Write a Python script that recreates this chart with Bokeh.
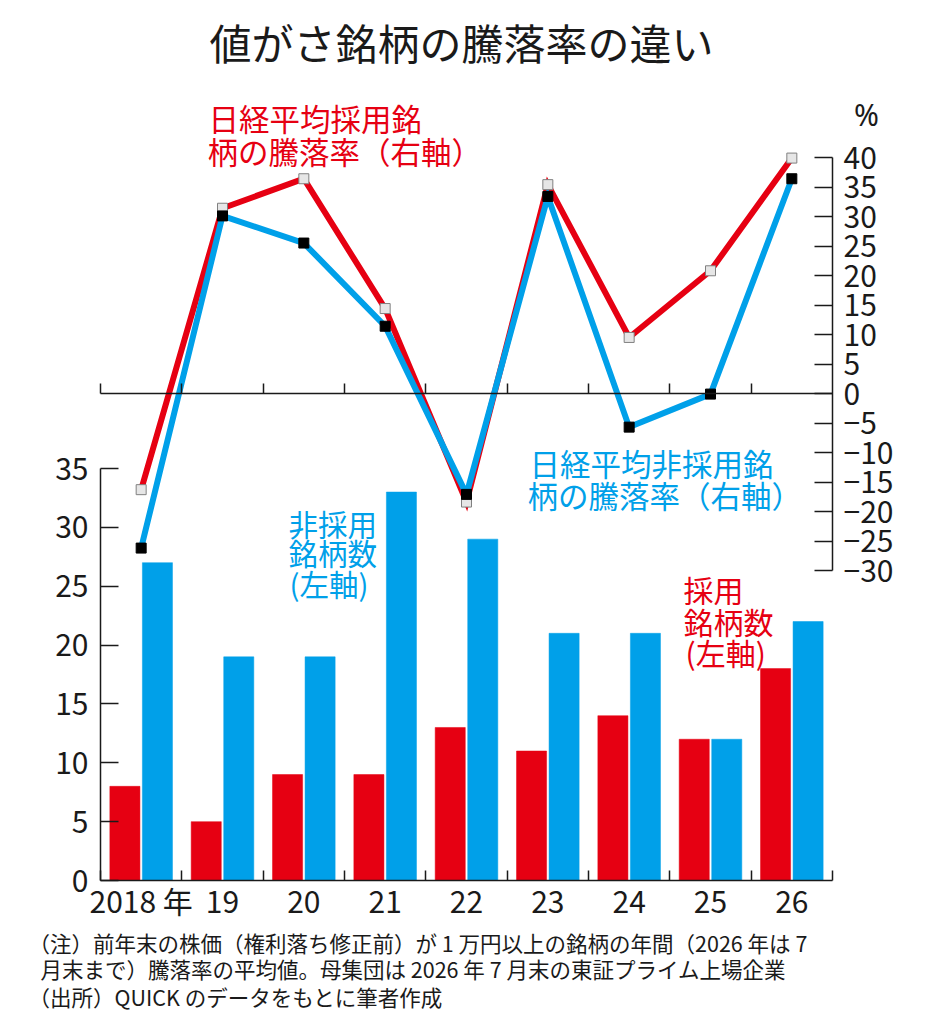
from bokeh.plotting import figure
from bokeh.models import Range1d, LinearAxis, FixedTicker, Label, ColumnDataSource
from bokeh.transform import dodge
from bokeh.embed import file_html
from bokeh.resources import INLINE

# ---------------- data ----------------
years = ["2018 年", "19", "20", "21", "22", "23", "24", "25", "26"]
adopted_count = [8, 5, 9, 9, 13, 11, 14, 12, 18]          # 採用銘柄数（左軸）
non_adopted_count = [27, 19, 19, 33, 29, 21, 21, 12, 22]  # 非採用銘柄数（左軸）
adopted_return = [-16.3, 31.4, 36.4, 14.4, -18.4, 35.4, 9.5, 20.8, 39.9]      # 日経平均採用銘柄の騰落率（右軸）
non_adopted_return = [-26.2, 30.1, 25.5, 11.4, -17.1, 33.4, -5.7, -0.1, 36.4]  # 日経平均非採用銘柄の騰落率（右軸）
left_ticks = [0, 5, 10, 15, 20, 25, 30, 35]
right_ticks = [-30, -25, -20, -15, -10, -5, 0, 5, 10, 15, 20, 25, 30, 35, 40]

title_text = "値がさ銘柄の騰落率の違い"
footnote_lines = [
    "（注）前年末の株価（権利落ち修正前）が 1 万円以上の銘柄の年間（2026 年は 7",
    "月末まで）騰落率の平均値。母集団は 2026 年 7 月末の東証プライム上場企業",
    "（出所）QUICK のデータをもとに筆者作成",
]

RED = "#e60012"
BLUE = "#00a0e9"
INK = "#1a1a1a"
FONT = "Noto Sans CJK JP"

# ---------------- layout (page pixels) ----------------
W, H = 916, 1016
FL, FR = 100, 832                 # plot area left / right (axis lines)
L0_PX, L35_PX = 880, 468          # left axis 0 and 35
R40_PX, RM30_PX = 157, 570        # right axis 40 and -30

n = len(years)
KX = (FR - FL) / n
KL = (L0_PX - L35_PX) / 35.0
KR = (RM30_PX - R40_PX) / 70.0
R0_PX = R40_PX + 40 * KR


def xd(px):
    return -0.5 + (px - FL) / KX


def yd(py):
    return (L0_PX - py) / KL


# the frame covers the whole canvas; the axes are pinned with fixed_location
p = figure(width=W, height=H, output_backend="svg", toolbar_location=None,
           x_range=Range1d(xd(0), xd(W)), y_range=Range1d(yd(H), yd(0)),
           x_axis_type=None, y_axis_type=None,
           min_border_left=0, min_border_right=0, min_border_top=0, min_border_bottom=0)
p.extra_y_ranges = {"right": Range1d((R0_PX - H) / KR, R0_PX / KR)}
p.outline_line_color = None
p.background_fill_color = "white"
p.border_fill_color = "white"

centers = list(range(n))
bounds = [i - 0.5 for i in range(n + 1)]
src = ColumnDataSource(dict(x=centers, adopted=adopted_count, non_adopted=non_adopted_count,
                            adopted_ret=adopted_return, non_adopted_ret=non_adopted_return))

# bars
p.vbar(x=dodge("x", -0.2, range=p.x_range), top="adopted", width=0.37, bottom=0,
       source=src, fill_color=RED, line_color=RED, line_width=0.5)
p.vbar(x=dodge("x", 0.2, range=p.x_range), top="non_adopted", width=0.37, bottom=0,
       source=src, fill_color=BLUE, line_color=BLUE, line_width=0.5)

# lines
p.line(x="x", y="adopted_ret", source=src, y_range_name="right",
       line_color=RED, line_width=6, line_join="miter")
p.line(x="x", y="non_adopted_ret", source=src, y_range_name="right",
       line_color=BLUE, line_width=6, line_join="miter")
p.scatter(x="x", y="adopted_ret", source=src, y_range_name="right", marker="square",
          size=10, fill_color="#e6e6e6", line_color="#808080", line_width=1)
p.scatter(x="x", y="non_adopted_ret", source=src, y_range_name="right", marker="square",
          size=10, fill_color="black", line_color="black", line_width=1)


def style(ax):
    ax.axis_line_color = INK
    ax.axis_line_width = 1.5
    ax.major_tick_line_color = INK
    ax.major_tick_line_width = 1.5
    ax.minor_tick_line_color = INK
    ax.minor_tick_line_width = 1.5
    ax.major_label_text_font = FONT
    ax.major_label_text_font_size = "30px"
    ax.major_label_text_color = INK


# bottom category axis (left-axis zero)
xa = LinearAxis(ticker=FixedTicker(ticks=centers, minor_ticks=bounds), fixed_location=0)
style(xa)
xa.bounds = (-0.5, n - 0.5)
xa.major_label_overrides = {c: lab for c, lab in zip(centers, years)}
xa.major_tick_in = 0
xa.major_tick_out = 0
xa.minor_tick_in = 10
xa.minor_tick_out = 0
xa.major_label_standoff = -3
p.add_layout(xa, "below")

# zero line of the right axis with upward ticks
za = LinearAxis(ticker=FixedTicker(ticks=[], minor_ticks=bounds[:-1]),
                fixed_location=(L0_PX - R0_PX) / KL)
style(za)
za.bounds = (-0.5, n - 0.5)
za.major_tick_in = 0
za.major_tick_out = 0
za.minor_tick_in = 10
za.minor_tick_out = 0
za.major_label_text_font_size = "0px"
p.add_layout(za, "below")

# left axis (counts)
ya = LinearAxis(ticker=FixedTicker(ticks=left_ticks), fixed_location=-0.5)
style(ya)
ya.bounds = (0, 35)
ya.major_tick_in = 18
ya.major_tick_out = 0
ya.minor_tick_in = 0
ya.minor_tick_out = 0
ya.major_label_standoff = 12
p.add_layout(ya, "left")

# right axis (returns, %)
ra = LinearAxis(y_range_name="right", ticker=FixedTicker(ticks=right_ticks), fixed_location=n - 0.5)
style(ra)
ra.bounds = (-30, 40)
ra.major_tick_in = 18
ra.major_tick_out = 0
ra.minor_tick_in = 0
ra.minor_tick_out = 0
ra.major_label_standoff = 11
p.add_layout(ra, "right")


def label(text, px, py, size, color, align="left", font=FONT):
    p.add_layout(Label(x=xd(px), y=yd(py), text=text, text_font=font,
                       text_font_size=f"{size}px", text_color=color,
                       text_align=align, text_baseline="middle"))


label(title_text, 461, 41, 42, INK, align="center")
label("%", 866, 114, 30, INK, align="center", font="Noto Sans")
# line annotations
label("日経平均採用銘", 208, 117, 30.5, RED)
label("柄の騰落率（右軸）", 207, 150, 30.5, RED)
label("日経平均非採用銘", 529, 462, 30.5, BLUE)
label("柄の騰落率（右軸）", 527, 494, 30.5, BLUE)
# bar annotations
label("非採用", 288, 522, 29.5, BLUE)
label("銘柄数", 288, 551, 29.5, BLUE)
label("(左軸)", 289, 582, 29.5, BLUE)
label("採用", 683, 588, 30, RED)
label("銘柄数", 683, 620, 30, RED)
label("(左軸)", 685, 651, 30, RED)
# footnote
for line_text, fx, fy in zip(footnote_lines, [28, 40, 28], [942, 968, 996]):
    label(line_text, fx, fy, 21.5, INK)

open("out.html", "w").write(file_html(p, INLINE))
